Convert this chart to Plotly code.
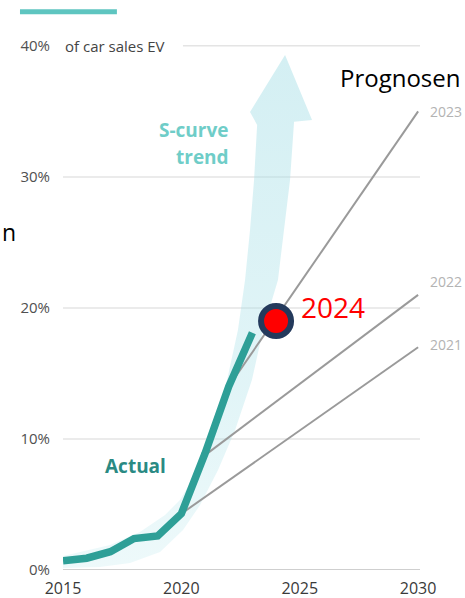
import plotly.graph_objects as go

# ---- data ----
years = [2015, 2016, 2017, 2018, 2019, 2020, 2021, 2022, 2023]
actual_share = [0.7, 0.9, 1.4, 2.4, 2.6, 4.3, 8.9, 14.0, 18.1]

forecast_names = ["2021", "2022", "2023"]
forecast_x = [[2020, 2030], [2021.1, 2030], [2022, 2030]]
forecast_y = [[4.3, 17.0], [8.9, 21.0], [14.0, 35.0]]

point_year = [2024]
point_share = [19.0]
point_label = "2024"

# S-curve trend band (polygon outline, years / % share)
scurve_x = [2015.0, 2016.99, 2018.25, 2019.31, 2019.94, 2020.45, 2020.91, 2021.42,
            2021.93, 2022.39, 2022.69, 2022.90, 2023.07, 2023.20, 2022.90, 2024.38,
            2025.52, 2024.76, 2024.59, 2024.34, 2024.08, 2023.45, 2022.98, 2022.27,
            2021.55, 2020.79, 2020.07, 2019.10, 2017.83, 2016.56, 2015.0]
scurve_y = [1.07, 1.91, 2.90, 4.20, 5.34, 6.87, 9.16, 11.45,
            14.50, 18.32, 22.14, 25.95, 29.77, 33.97, 34.96, 39.31,
            34.35, 34.20, 29.77, 25.95, 22.14, 18.32, 14.50, 10.69,
            7.63, 4.96, 3.05, 1.37, 0.53, 0.23, 0.15]

y_ticks = [0, 10, 20, 30, 40]
y_tick_text = ["0%", "10%", "20%", "30%", "40%"]
x_ticks = [2015, 2020, 2025, 2030]
x_tick_text = ["2015", "2020", "2025", "2030"]

FONT = "Open Sans"
fig = go.Figure()

# S-curve band
fig.add_trace(go.Scatter(x=scurve_x, y=scurve_y, mode="lines", fill="toself",
                         fillgradient=dict(type="vertical",
                                           colorscale=[[0, "rgba(175,228,234,0.22)"],
                                                       [0.35, "rgba(170,225,232,0.35)"],
                                                       [1, "rgba(165,222,230,0.48)"]]),
                         line=dict(width=0),
                         hoverinfo="skip", showlegend=False))

# forecast lines
for fx, fy in zip(forecast_x, forecast_y):
    fig.add_trace(go.Scatter(x=fx, y=fy, mode="lines",
                             line=dict(color="#9a9a9a", width=2),
                             hoverinfo="skip", showlegend=False))

# actual
fig.add_trace(go.Scatter(x=years, y=actual_share, mode="lines",
                         line=dict(color="#2e9f97", width=7.5),
                         showlegend=False))

# 2024 point
fig.add_trace(go.Scatter(x=point_year, y=point_share, mode="markers",
                         marker=dict(size=30, color="#ff0000",
                                     line=dict(color="#243a5c", width=6)),
                         showlegend=False))

shapes = []
# gridlines
for v in y_ticks:
    x0 = 0.336 if v == 40 else 0
    shapes.append(dict(type="line", xref="paper", yref="y", x0=x0, x1=1, y0=v, y1=v,
                       line=dict(color="#cfcfcf" if v == 0 else "#e4e4e4",
                                 width=2 if v == 0 else 1.5),
                       layer="below"))
# legend-like teal bar
shapes.append(dict(type="line", xref="paper", yref="y", x0=-0.1205, x1=0.151,
                   y0=42.6, y1=42.6, line=dict(color="#5ec5c0", width=5)))

annotations = [
    dict(x=0.0, xref="paper", y=40, yref="y", text="of car sales EV", showarrow=False,
         xanchor="left", yanchor="middle", font=dict(family=FONT, size=15, color="#444")),
    dict(x=2022.1, y=33.6, text="<b>S-curve</b>", showarrow=False, xanchor="right",
         yanchor="middle", font=dict(family=FONT, size=19, color="#6fcdc8")),
    dict(x=2022.1, y=31.5, text="<b>trend</b>", showarrow=False, xanchor="right",
         yanchor="middle", font=dict(family=FONT, size=19, color="#6fcdc8")),
    dict(x=2018.05, y=7.9, text="<b>Actual</b>", showarrow=False, xanchor="center",
         yanchor="middle", font=dict(family=FONT, size=19, color="#2a8a83")),
    dict(x=2026.6, y=37.55, text="Prognosen", showarrow=False, xanchor="left",
         yanchor="middle", font=dict(family=FONT, size=24, color="#000")),
    dict(x=2024.95, y=20.1, text=point_label, showarrow=False, xanchor="left",
         yanchor="middle", font=dict(family=FONT, size=28, color="#ff0000")),
    dict(x=-0.1765, xref="paper", y=25.8, yref="y", text="n", showarrow=False,
         xanchor="left", yanchor="middle", font=dict(family=FONT, size=23, color="#000")),
]
for name, fy in zip(forecast_names, forecast_y):
    annotations.append(dict(x=1.022, xref="paper", yref="y",
                            y=fy[1] + (0 if name == "2023" else 1.0 if name == "2022" else 0.2),
                            text=name, showarrow=False, xanchor="left", yanchor="middle",
                            font=dict(family=FONT, size=14, color="#b3b3b3")))

fig.update_layout(
    width=465, height=598,
    margin=dict(l=63, r=45, t=0, b=28),
    paper_bgcolor="white", plot_bgcolor="white",
    shapes=shapes, annotations=annotations,
    xaxis=dict(range=[2015, 2030.08], tickvals=x_ticks, ticktext=x_tick_text,
               showgrid=False, zeroline=False, showline=False, ticks="",
               ticklabelstandoff=7,
               tickfont=dict(family=FONT, size=16, color="#3a3a3a")),
    yaxis=dict(range=[0, 43.5], tickvals=y_ticks, ticktext=y_tick_text,
               showgrid=False, zeroline=False, showline=False, ticks="",
               ticklabelstandoff=12,
               tickfont=dict(family=FONT, size=15, color="#505050")),
    showlegend=False,
)

fig.write_html("out.html", config={"displayModeBar": False},
               post_script="document.body.style.margin='0px';document.body.style.padding='0px';")
